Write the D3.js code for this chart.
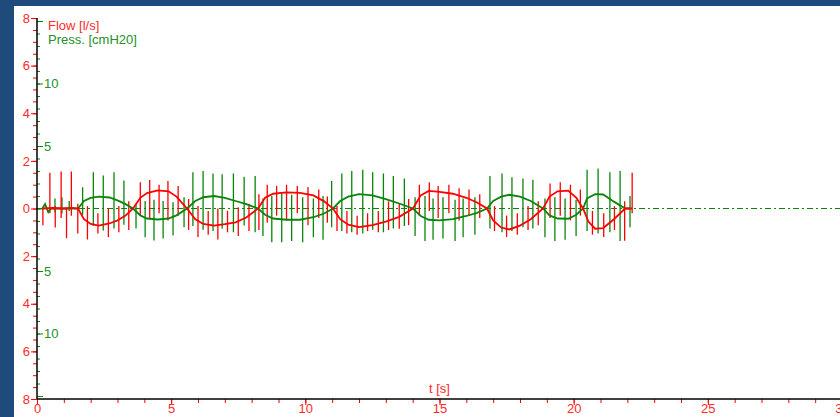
<!DOCTYPE html>
<html>
<head>
<meta charset="utf-8">
<script src="https://cdn.jsdelivr.net/npm/d3@7"></script>
<style>
  html, body { margin: 0; padding: 0; background: #1f4a7c; }
  svg { display: block; }
  text { font-family: "Liberation Sans", Arial, sans-serif; }
</style>
</head>
<body>
<svg id="chart" width="840" height="417"></svg>
<script>
// ---- axis tick values ----
const timeTicks = [0, 5, 10, 15, 20, 25, 30];
const flowTicks = [-8, -6, -4, -2, 0, 2, 4, 6, 8];
const pressLabelTicks = [-10, -5, 5, 10];
const pressMajorTicks = [-15, -10, -5, 0, 5, 10, 15];

// ---- flow [l/s]: slow breathing component [t, value] ----
const flowBase = [
  [0.22, 0], [0.6, 0.02], [1.0, 0], [1.3, 0.03], [1.53, 0],
  [1.75, -0.45], [2.0, -0.65], [2.3, -0.72], [2.7, -0.63], [3.0, -0.5], [3.3, -0.3], [3.58, 0],
  [3.85, 0.45], [4.1, 0.65], [4.5, 0.76], [4.9, 0.72], [5.2, 0.5], [5.59, 0],
  [5.9, -0.45], [6.2, -0.65], [6.6, -0.72], [7.0, -0.66], [7.4, -0.58], [7.8, -0.38], [8.24, 0],
  [8.5, 0.45], [8.8, 0.62], [9.3, 0.68], [9.8, 0.66], [10.3, 0.55], [10.7, 0.3], [11.03, 0],
  [11.3, -0.45], [11.6, -0.68], [12.0, -0.78], [12.5, -0.7], [13.0, -0.55], [13.5, -0.35], [14.01, 0],
  [14.3, 0.55], [14.6, 0.74], [15.0, 0.7], [15.5, 0.62], [16.0, 0.45], [16.4, 0.25], [16.77, 0],
  [17.0, -0.5], [17.3, -0.8], [17.6, -0.88], [18.0, -0.72], [18.4, -0.45], [18.86, 0],
  [19.1, 0.5], [19.4, 0.72], [19.8, 0.75], [20.1, 0.45], [20.35, 0],
  [20.55, -0.55], [20.8, -0.85], [21.1, -0.82], [21.5, -0.45], [21.92, 0], [22.18, 0]
];

// ---- flow oscillation impulses [t, low, high] ----
const flowSpikes = [
  [0.22, -0.7, 0], [0.48, -0.2, 1.5], [0.68, -0.8, 0.1], [0.9, -0.4, 1.55], [1.1, -1.25, 0],
  [1.28, -0.3, 1.55], [1.52, -1.05, 0.2],
  [1.88, -1.3, 0.1], [2.27, -1.05, -0.2], [2.66, -1.2, 0.0], [3.05, -1.0, 0.1], [3.42, -0.9, 0.3],
  [3.85, -0.3, 1.1], [4.2, -0.4, 1.2], [4.55, -0.2, 1.0], [4.88, -0.5, 1.15], [5.26, -0.3, 0.95],
  [5.65, -0.9, 0.4], [6.0, -1.2, 0.1], [6.38, -1.1, -0.1], [6.74, -1.3, 0.0], [7.1, -1.0, -0.1],
  [7.5, -1.15, 0.05], [7.9, -0.95, 0.2],
  [8.27, -0.9, 0.6], [8.58, -0.6, 1.0], [8.93, -0.3, 0.95], [9.3, -0.5, 1.0], [9.7, -0.2, 0.95],
  [10.1, -0.7, 0.9], [10.5, -0.4, 0.8], [10.82, -0.6, 0.5],
  [11.18, -0.95, 0.1], [11.55, -1.05, -0.1], [11.93, -1.1, -0.3], [12.32, -0.95, -0.2],
  [12.72, -1.0, -0.1], [13.1, -0.9, 0.3], [13.5, -0.85, 0.2], [13.85, -0.7, 0.4],
  [14.25, -0.3, 1.0], [14.62, -0.1, 1.1], [14.95, -0.4, 0.95], [15.35, -0.2, 1.0],
  [15.73, -0.5, 0.85], [16.1, -0.3, 0.8], [16.5, -0.4, 0.6],
  [17.05, -0.95, 0.1], [17.5, -1.2, -0.3], [17.9, -1.1, -0.2], [18.3, -0.9, 0.1], [18.68, -0.7, 0.3],
  [19.12, -0.4, 1.05], [19.5, -0.3, 1.1], [19.88, -0.5, 1.0], [20.25, -0.3, 0.8],
  [20.7, -1.1, -0.1], [21.12, -1.2, -0.2], [21.52, -0.9, 0.1], [21.9, -1.35, 0.3], [22.18, -0.2, 1.5]
];

// ---- pressure [cmH2O]: slow breathing component [t, value] ----
const pressBase = [
  [0.2, 0], [0.3, 0.35], [0.42, -0.3], [0.52, 0], [1.53, 0],
  [1.75, 0.6], [2.0, 0.85], [2.3, 0.95], [2.7, 0.88], [3.0, 0.65], [3.3, 0.35], [3.58, 0],
  [3.85, -0.55], [4.1, -0.8], [4.5, -0.88], [4.9, -0.8], [5.2, -0.55], [5.59, 0],
  [5.9, 0.6], [6.2, 0.9], [6.6, 1.0], [7.0, 0.85], [7.4, 0.6], [7.8, 0.35], [8.24, 0],
  [8.5, -0.5], [8.8, -0.8], [9.3, -0.9], [9.8, -0.9], [10.3, -0.7], [10.7, -0.4], [11.03, 0],
  [11.3, 0.6], [11.6, 0.95], [12.0, 1.15], [12.5, 1.05], [13.0, 0.75], [13.5, 0.4], [14.01, 0],
  [14.3, -0.6], [14.6, -0.9], [15.0, -0.95], [15.5, -0.85], [16.0, -0.6], [16.4, -0.35], [16.77, 0],
  [17.0, 0.6], [17.3, 0.95], [17.6, 1.1], [18.0, 0.95], [18.4, 0.6], [18.86, 0],
  [19.1, -0.55], [19.4, -0.8], [19.8, -0.82], [20.1, -0.5], [20.35, 0],
  [20.5, 0.8], [20.8, 1.15], [21.1, 1.12], [21.5, 0.55], [21.92, 0], [22.12, 0]
];

// ---- pressure oscillation impulses [t, low, high] ----
const pressSpikes = [
  [0.67, -0.3, 0.8], [0.93, -0.4, 0.9], [1.2, -0.2, 0.6],
  [1.70, -0.5, 1.7], [2.10, -1.4, 2.9], [2.47, -1.75, 2.65], [2.87, -1.6, 2.9], [3.24, -1.3, 2.25],
  [3.69, -1.6, 0.4], [4.03, -2.3, 0.6], [4.36, -2.55, 0.7], [4.70, -2.4, 0.6], [5.07, -2.15, 0.5], [5.48, -1.5, 0.9],
  [5.81, -1.4, 2.9], [6.19, -1.7, 3.0], [6.56, -1.8, 2.8], [6.90, -1.6, 2.75], [7.32, -1.9, 2.8],
  [7.72, -1.35, 2.55], [8.13, -1.9, 2.6],
  [8.42, -2.2, 0.8], [8.75, -2.7, 1.0], [9.12, -2.7, 1.2], [9.49, -2.6, 1.1], [9.90, -2.7, 0.9],
  [10.30, -2.3, 0.8], [10.66, -2.5, 1.0],
  [10.98, -1.5, 2.2], [11.36, -1.8, 2.8], [11.73, -1.9, 3.0], [12.14, -2.0, 3.1], [12.51, -1.7, 2.9],
  [12.91, -1.9, 2.8], [13.28, -1.6, 2.6], [13.69, -1.4, 2.4],
  [14.09, -2.2, 0.9], [14.46, -2.6, 1.0], [14.76, -2.5, 0.8], [15.13, -2.4, 0.9], [15.58, -2.6, 0.7],
  [15.88, -2.3, 0.8], [16.32, -2.1, 0.9],
  [16.88, -1.6, 2.6], [17.33, -1.9, 2.8], [17.70, -1.8, 2.5], [18.11, -1.5, 2.4], [18.48, -1.6, 2.3],
  [18.93, -2.3, 0.8], [19.30, -2.6, 0.9], [19.68, -2.5, 0.8], [20.09, -2.2, 0.7],
  [20.50, -1.8, 3.1], [20.91, -2.0, 3.2], [21.35, -1.9, 2.9], [21.73, -2.6, 3.0], [22.10, -1.5, 1.0]
];

// ---- colours ----
const RED = "#ff0000";
const RED_TEXT = "#ff2a2a";
const GREEN = "#0a850a";
const GREEN_TEXT = "#23902a";

const svg = d3.select("#chart");

// plot sheet
svg.append("rect").attr("x", 14).attr("y", 6).attr("width", 826).attr("height", 411).attr("fill", "#ffffff");

// ---- scales ----
const x = d3.scaleLinear().domain([0, 30]).range([37, 842]);
const yFlow = d3.scaleLinear().domain([-8, 8]).range([399, 18]);
const yPress = d3.scaleLinear().domain([-15.24, 15.24]).range([399, 18]);

const x0 = x(0);
const yBottom = yFlow(-8);

// dash-dot zero line
svg.append("line")
  .attr("x1", x0).attr("x2", 840)
  .attr("y1", yFlow(0)).attr("y2", yFlow(0))
  .attr("stroke", GREEN).attr("stroke-width", 1)
  .attr("stroke-dasharray", "6,3,2,3");

// ---- axes ----
function styleAxis(g, color, fontColor) {
  g.select(".domain").remove();
  g.selectAll(".tick line").attr("stroke", color).attr("stroke-width", 1);
  g.selectAll(".tick text").attr("fill", fontColor).style("font-size", "13px")
    .style("font-family", '"Liberation Sans", Arial, sans-serif');
}

// flow axis (red, left side of the spine)
const flowMinor = svg.append("g").attr("transform", `translate(${x0},0)`)
  .call(d3.axisLeft(yFlow).tickValues(d3.range(-8, 8.01, 0.5)).tickSize(4).tickFormat(""));
styleAxis(flowMinor, RED, RED_TEXT);
const flowMajor = svg.append("g").attr("transform", `translate(${x0},0)`)
  .call(d3.axisLeft(yFlow).tickValues(flowTicks).tickSize(6).tickPadding(1).tickFormat(d => Math.abs(d)));
styleAxis(flowMajor, RED, RED_TEXT);

// pressure axis (green, right side of the spine)
const pressMinor = svg.append("g").attr("transform", `translate(${x0},0)`)
  .call(d3.axisRight(yPress).tickValues(d3.range(-15, 15.01, 1)).tickSize(3).tickFormat(""));
styleAxis(pressMinor, GREEN, GREEN_TEXT);
const pressMajor = svg.append("g").attr("transform", `translate(${x0},0)`)
  .call(d3.axisRight(yPress).tickValues(pressMajorTicks).tickSize(6).tickPadding(1)
    .tickFormat(d => pressLabelTicks.includes(d) ? Math.abs(d) : ""));
styleAxis(pressMajor, GREEN, GREEN_TEXT);

// time axis (red ticks below the base line)
const timeMinor = svg.append("g").attr("transform", `translate(0,${yBottom})`)
  .call(d3.axisBottom(x).tickValues(d3.range(0, 31, 1)).tickSize(4).tickFormat(""));
styleAxis(timeMinor, RED, RED_TEXT);
const timeMajor = svg.append("g").attr("transform", `translate(0,${yBottom})`)
  .call(d3.axisBottom(x).tickValues(timeTicks).tickSize(6).tickPadding(-1));
styleAxis(timeMajor, RED, RED_TEXT);

// black spines
svg.append("line").attr("x1", x0).attr("x2", x0).attr("y1", yFlow(8)).attr("y2", yBottom)
  .attr("stroke", "#000").attr("stroke-width", 1.5);
svg.append("line").attr("x1", x0).attr("x2", 840).attr("y1", yBottom).attr("y2", yBottom)
  .attr("stroke", "#000").attr("stroke-width", 1.5);

// ---- signals ----
const plot = svg.append("g");

plot.selectAll("line.pspike").data(pressSpikes).join("line")
  .attr("class", "pspike")
  .attr("x1", d => x(d[0])).attr("x2", d => x(d[0]))
  .attr("y1", d => yPress(d[1])).attr("y2", d => yPress(d[2]))
  .attr("stroke", GREEN).attr("stroke-width", 1.3);

plot.selectAll("line.fspike").data(flowSpikes).join("line")
  .attr("class", "fspike")
  .attr("x1", d => x(d[0])).attr("x2", d => x(d[0]))
  .attr("y1", d => yFlow(d[1])).attr("y2", d => yFlow(d[2]))
  .attr("stroke", RED).attr("stroke-width", 1.3);

plot.append("path").datum(pressBase)
  .attr("d", d3.line().x(d => x(d[0])).y(d => yPress(d[1])))
  .attr("fill", "none").attr("stroke", GREEN).attr("stroke-width", 1.8);

plot.append("path").datum(flowBase)
  .attr("d", d3.line().x(d => x(d[0])).y(d => yFlow(d[1])))
  .attr("fill", "none").attr("stroke", RED).attr("stroke-width", 1.8);

// ---- legend and axis title ----
svg.append("text").attr("x", 48).attr("y", 30).attr("fill", RED_TEXT)
  .style("font-size", "13px").text("Flow [l/s]");
svg.append("text").attr("x", 48).attr("y", 44).attr("fill", GREEN_TEXT)
  .style("font-size", "13px").text("Press. [cmH20]");
svg.append("text").attr("x", (x0 + 842) / 2).attr("y", 393).attr("text-anchor", "middle")
  .attr("fill", RED_TEXT).style("font-size", "13px").text("t [s]");
</script>
</body>
</html>
